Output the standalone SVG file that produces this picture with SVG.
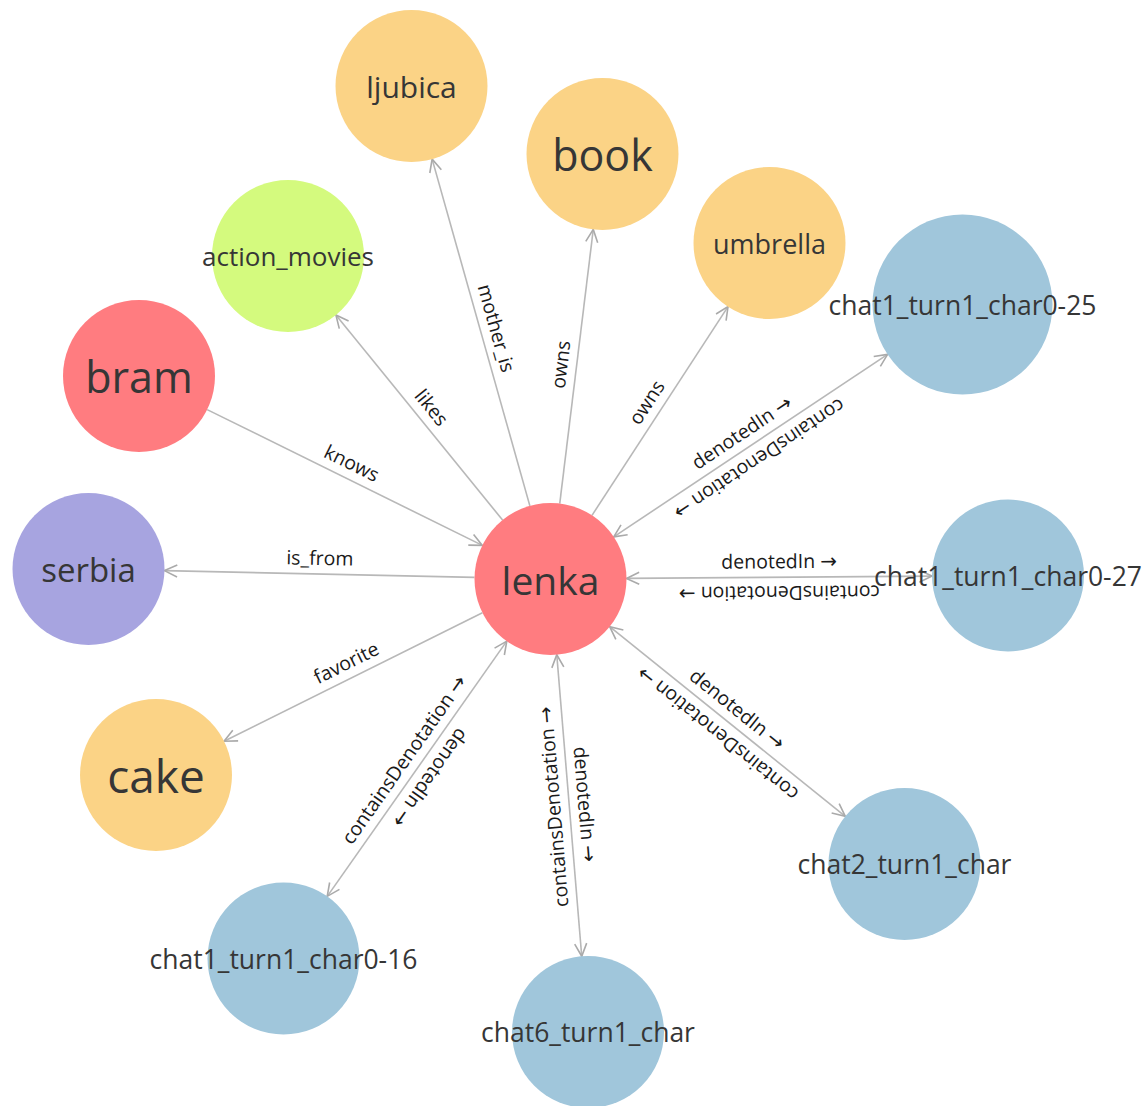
<svg xmlns="http://www.w3.org/2000/svg" width="1148" height="1106" viewBox="0 0 1148 1106">
<defs>
<style>
.link{stroke:#b8b8b8;stroke-width:1.6;fill:none}
.el{font-family:"Open Sans","Liberation Sans",sans-serif;font-size:19.5px;fill:#1a1a1a;text-anchor:middle}
.ar{font-family:"DejaVu Sans","Liberation Sans",sans-serif;font-size:20px}
.node circle{stroke:none}
.nl{font-family:"Open Sans","Liberation Sans",sans-serif;fill:#363636;text-anchor:middle;dominant-baseline:central}
.orange{fill:#FBD386}
.green{fill:#D4FA7E}
.red{fill:#FF7C80}
.purple{fill:#A7A4E0}
.blue{fill:#A0C6DB}
</style>
<marker id="ah" markerUnits="userSpaceOnUse" viewBox="-15 -8 17 16" refX="0" refY="0" markerWidth="17" markerHeight="16" orient="auto-start-reverse">
<path d="M-12.7,-6 L0,0 L-12.7,6" fill="none" stroke="#aaaaaa" stroke-width="1.6"/>
</marker>
</defs>
<rect width="1148" height="1106" fill="#ffffff"/>
<g id="connectors">
<g id="e-mother_is">
<line class="link" x1="529.87" y1="505.85" x2="432.13" y2="159.15" marker-end="url(#ah)"/>
<text class="el" transform="translate(481,332.5) rotate(74.25)" y="-9">mother_is</text>
</g>
<g id="e-owns-book">
<line class="link" x1="559.73" y1="503.56" x2="593.27" y2="229.44" marker-end="url(#ah)"/>
<text class="el" transform="translate(576.5,366.5) rotate(-83.02)" y="-9">owns</text>
</g>
<g id="e-owns-umbrella">
<line class="link" x1="592" y1="515.33" x2="728" y2="306.67" marker-end="url(#ah)"/>
<text class="el" transform="translate(660,411) rotate(-56.9)" y="-9">owns</text>
</g>
<g id="e-likes">
<line class="link" x1="502.57" y1="520.02" x2="335.93" y2="314.98" marker-end="url(#ah)"/>
<text class="el" transform="translate(419.25,417.5) rotate(50.9)" y="-9">likes</text>
</g>
<g id="e-knows">
<line class="link" x1="207.16" y1="409.62" x2="482.34" y2="545.38" marker-end="url(#ah)"/>
<text class="el" transform="translate(344.75,477.5) rotate(26.26)" y="-9">knows</text>
</g>
<g id="e-is_from">
<line class="link" x1="474.52" y1="577.36" x2="164.48" y2="570.64" marker-end="url(#ah)"/>
<text class="el" transform="translate(319.5,574) rotate(1.24)" y="-9">is_from</text>
</g>
<g id="e-favorite">
<line class="link" x1="482.43" y1="612.82" x2="224.07" y2="741.18" marker-end="url(#ah)"/>
<text class="el" transform="translate(353.25,677) rotate(-26.42)" y="-9">favorite</text>
</g>
<g id="e-c25">
<line class="link" x1="613.75" y1="536.86" x2="887.6" y2="354.4" marker-start="url(#ah)" marker-end="url(#ah)"/>
<text class="el" transform="translate(750.7,445.6) rotate(-33.67)" y="-9">denotedIn <tspan class="ar">→</tspan></text>
<text class="el" transform="translate(750.7,445.6) rotate(146.33)" y="-9">containsDenotation <tspan class="ar">→</tspan></text>
</g>
<g id="e-c27">
<line class="link" x1="626.5" y1="578.42" x2="932" y2="576.08" marker-start="url(#ah)" marker-end="url(#ah)"/>
<text class="el" transform="translate(779.25,577.25) rotate(-0.44)" y="-9">denotedIn <tspan class="ar">→</tspan></text>
<text class="el" transform="translate(779.25,577.25) rotate(179.56)" y="-9">containsDenotation <tspan class="ar">→</tspan></text>
</g>
<g id="e-c2">
<line class="link" x1="609.7" y1="626.66" x2="845.3" y2="816.34" marker-start="url(#ah)" marker-end="url(#ah)"/>
<text class="el" transform="translate(727.5,721.5) rotate(38.84)" y="-9">denotedIn <tspan class="ar">→</tspan></text>
<text class="el" transform="translate(727.5,721.5) rotate(218.84)" y="-9">containsDenotation <tspan class="ar">→</tspan></text>
</g>
<g id="e-c6">
<line class="link" x1="556.77" y1="654.74" x2="581.73" y2="956.26" marker-start="url(#ah)" marker-end="url(#ah)"/>
<text class="el" transform="translate(569.25,805.5) rotate(85.27)" y="-9">denotedIn <tspan class="ar">→</tspan></text>
<text class="el" transform="translate(569.25,805.5) rotate(265.27)" y="-9">containsDenotation <tspan class="ar">→</tspan></text>
</g>
<g id="e-c16">
<line class="link" x1="506.77" y1="641.16" x2="327.23" y2="896.34" marker-start="url(#ah)" marker-end="url(#ah)"/>
<text class="el" transform="translate(417,768.75) rotate(125.13)" y="-9">denotedIn <tspan class="ar">→</tspan></text>
<text class="el" transform="translate(417,768.75) rotate(-54.87)" y="-9">containsDenotation <tspan class="ar">→</tspan></text>
</g>
</g>
<g id="n-ljubica" class="node"><circle class="orange" cx="411.5" cy="86" r="76"/><text class="nl" x="411.5" y="86" font-size="30">ljubica</text></g>
<g id="n-book" class="node"><circle class="orange" cx="602.5" cy="154" r="76"/><text class="nl" x="602.5" y="154" font-size="43">book</text></g>
<g id="n-umbrella" class="node"><circle class="orange" cx="769.5" cy="243" r="76"/><text class="nl" x="769.5" y="243" font-size="27">umbrella</text></g>
<g id="n-action_movies" class="node"><circle class="green" cx="288" cy="256" r="76"/><text class="nl" x="288" y="256" font-size="26">action_movies</text></g>
<g id="n-bram" class="node"><circle class="red" cx="139" cy="376" r="76"/><text class="nl" x="139" y="376" font-size="43">bram</text></g>
<g id="n-serbia" class="node"><circle class="purple" cx="88.5" cy="569" r="76"/><text class="nl" x="88.5" y="569" font-size="33">serbia</text></g>
<g id="n-lenka" class="node"><circle class="red" cx="550.5" cy="579" r="76"/><text class="nl" x="550.5" y="579" font-size="39">lenka</text></g>
<g id="n-cake" class="node"><circle class="orange" cx="156" cy="775" r="76"/><text class="nl" x="156" y="775" font-size="46">cake</text></g>
<g id="n-c25" class="node"><circle class="blue" cx="962.5" cy="304.5" r="90"/><text class="nl" x="962.5" y="304.5" font-size="26.5">chat1_turn1_char0-25</text></g>
<g id="n-c27" class="node"><circle class="blue" cx="1008" cy="575.5" r="76"/><text class="nl" x="1008" y="575.5" font-size="26.5">chat1_turn1_char0-27</text></g>
<g id="n-c2" class="node"><circle class="blue" cx="904.5" cy="864" r="76"/><text class="nl" x="904.5" y="864" font-size="26.5">chat2_turn1_char</text></g>
<g id="n-c16" class="node"><circle class="blue" cx="283.5" cy="958.5" r="76"/><text class="nl" x="283.5" y="958.5" font-size="26.5">chat1_turn1_char0-16</text></g>
<g id="n-c6" class="node"><circle class="blue" cx="588" cy="1032" r="76"/><text class="nl" x="588" y="1032" font-size="26.5">chat6_turn1_char</text></g>
</svg>
